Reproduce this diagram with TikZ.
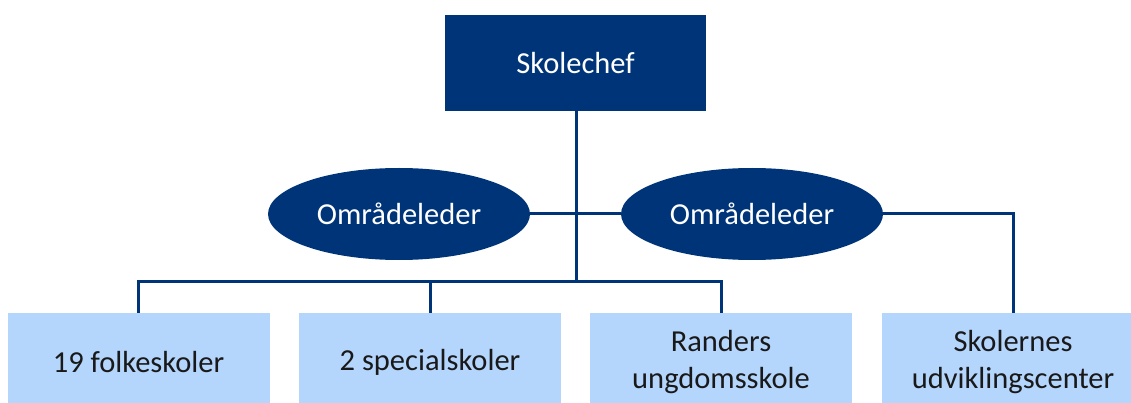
\documentclass[tikz,border=0pt]{standalone}
\usepackage{fontspec}
\setmainfont{Carlito}
\usetikzlibrary{positioning,shapes.geometric}

\definecolor{chefblue}{RGB}{0,52,120}
\definecolor{unitblue}{RGB}{180,213,252}
\definecolor{unittext}{RGB}{25,25,25}

\begin{document}
\begin{tikzpicture}[
    x=1pt,y=-1pt,
    chefbox/.style={rectangle,fill=chefblue,text=white,
        minimum width=261pt,minimum height=96pt,inner sep=0pt,
        font=\fontsize{30.5}{37}\selectfont},
    leaderoval/.style={ellipse,fill=chefblue,text=white,
        minimum width=262pt,minimum height=92pt,inner sep=0pt,
        font=\fontsize{30.5}{37}\selectfont},
    unitbox/.style={rectangle,fill=unitblue,text=unittext,
        minimum width=262pt,minimum height=98pt,inner sep=0pt,
        align=center,font=\fontsize{30.5}{37}\selectfont},
    orgline/.style={draw=chefblue,line width=3pt}]
\useasboundingbox (0,0) rectangle (1131,403);
\node (chef) [chefbox] at (575.5,63) {Skolechef};
\node (omr1) [leaderoval] at (399,214) {Områdeleder};
\node (omr2) [leaderoval] at (752,214) {Områdeleder};
\node (folk) [unitbox] at (138.5,362) {19 folkeskoler};
\node (spec) [unitbox] at (430,362) {2 specialskoler};
\node (ungd) [unitbox] at (721,362) {Randers\\ungdomsskole};
\node (udv)  [unitbox] at (1013,362) {Skolernes\\udviklingscenter};
\coordinate (jn) at (576,281);
% connectors
\draw[orgline] (chef.south -| jn) -- (jn);
\draw[orgline] (folk.north) |- (jn) -| (ungd.north);
\draw[orgline] (spec.north) -- (spec.north |- jn);
\draw[orgline] (omr1.east) -- (omr2.west);
\draw[orgline] (omr2.east) -| (udv.north);
\end{tikzpicture}
\end{document}
